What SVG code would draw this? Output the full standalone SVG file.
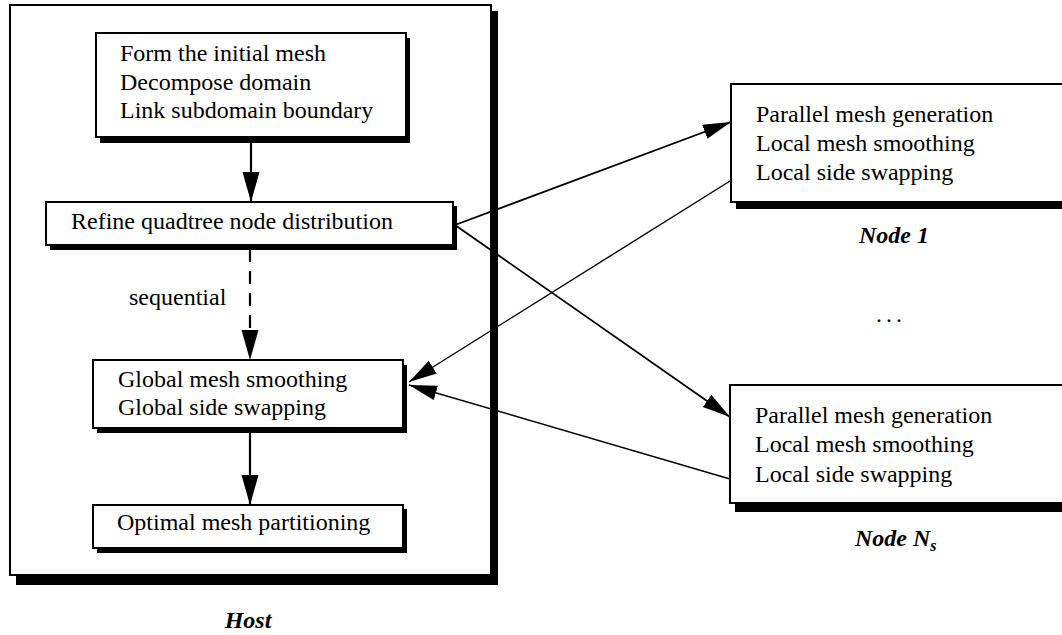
<svg xmlns="http://www.w3.org/2000/svg" width="1062" height="635" viewBox="0 0 1062 635">
<style>
  .t { font-family: "Liberation Serif", "Times New Roman", serif; font-size: 24px; fill: #000; }
  .lbl { font-family: "Liberation Serif", "Times New Roman", serif; font-size: 24px; font-style: italic; font-weight: bold; fill: #000; }
  .box { fill: #fff; stroke: #000; stroke-width: 2; }
  .sh { fill: #000; }
  .ln { fill: none; stroke: #000; stroke-width: 2.2; }
  .dg { fill: none; stroke: #000; stroke-width: 1.8; }
  .rt { fill: none; stroke: #000; stroke-width: 1.4; }
</style>
<defs>
  <marker id="big" markerUnits="userSpaceOnUse" markerWidth="32" markerHeight="18" refX="30" refY="8.5" orient="auto">
    <path d="M0,0 L30,8.5 L0,17 z" fill="#000"/>
  </marker>
  <marker id="mid" markerUnits="userSpaceOnUse" markerWidth="30" markerHeight="16" refX="28" refY="7.5" orient="auto">
    <path d="M0,0 L28,7.5 L0,15 z" fill="#000"/>
  </marker>
</defs>

<g id="host">
  <rect class="sh" x="16" y="11" width="482" height="574"/>
  <rect class="box" x="10" y="5" width="481" height="570"/>
  <text class="lbl" x="248" y="628" text-anchor="middle">Host</text>
</g>

<g id="form-initial-mesh">
  <rect class="sh" x="100" y="38" width="310" height="105"/>
  <rect class="box" x="96" y="33" width="310" height="104"/>
  <text class="t" x="120" y="61">Form the initial mesh</text>
  <text class="t" x="120" y="90">Decompose domain</text>
  <text class="t" x="120" y="118">Link subdomain boundary</text>
</g>

<g id="refine-quadtree">
  <rect class="sh" x="50" y="206" width="407" height="44"/>
  <rect class="box" x="46" y="202" width="407" height="43"/>
  <text class="t" x="71" y="229">Refine quadtree node distribution</text>
</g>

<g id="global-smoothing">
  <rect class="sh" x="97" y="365" width="310" height="68"/>
  <rect class="box" x="93" y="360" width="310" height="68"/>
  <text class="t" x="118" y="387">Global mesh smoothing</text>
  <text class="t" x="118" y="415">Global side swapping</text>
</g>

<g id="optimal-partitioning">
  <rect class="sh" x="97" y="509" width="310" height="44"/>
  <rect class="box" x="93" y="505" width="310" height="43"/>
  <text class="t" x="117" y="530">Optimal mesh partitioning</text>
</g>

<g id="node-1">
  <rect class="sh" x="736" y="88" width="340" height="121"/>
  <rect class="box" x="731" y="84" width="345" height="118"/>
  <text class="t" x="756" y="122">Parallel mesh generation</text>
  <text class="t" x="756" y="151">Local mesh smoothing</text>
  <text class="t" x="756" y="180">Local side swapping</text>
  <text class="lbl" x="894" y="243" text-anchor="middle">Node 1</text>
</g>

<g id="ellipsis">
  <text class="t" x="891" y="322" text-anchor="middle" letter-spacing="4">...</text>
</g>

<g id="node-ns">
  <rect class="sh" x="735" y="389" width="340" height="123"/>
  <rect class="box" x="730" y="385" width="345" height="118"/>
  <text class="t" x="755" y="423">Parallel mesh generation</text>
  <text class="t" x="755" y="452">Local mesh smoothing</text>
  <text class="t" x="755" y="482">Local side swapping</text>
  <text class="lbl" x="855" y="546">Node N<tspan font-size="16" dy="5">s</tspan></text>
</g>

<g id="connectors">
  <line class="ln" x1="251" y1="140" x2="251" y2="202" marker-end="url(#big)"/>
  <line class="ln" x1="250" y1="249" x2="250" y2="360" stroke-dasharray="13,9" marker-end="url(#big)"/>
  <line class="ln" x1="250" y1="433" x2="250" y2="505" marker-end="url(#big)"/>
  <line class="dg" x1="455" y1="225" x2="731" y2="122" marker-end="url(#mid)"/>
  <line class="dg" x1="455" y1="225" x2="730" y2="417" marker-end="url(#mid)"/>
  <line class="rt" x1="730" y1="181" x2="409" y2="382" marker-end="url(#mid)"/>
  <line class="rt" x1="730" y1="479" x2="409" y2="385" marker-end="url(#mid)"/>
  <text class="t" x="129" y="305">sequential</text>
</g>
</svg>
